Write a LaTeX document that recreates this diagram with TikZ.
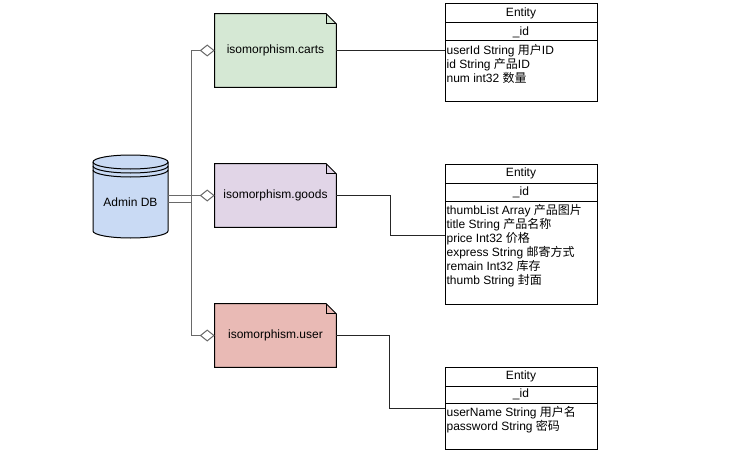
\documentclass[tikz,border=0pt]{standalone}
\usepackage{fontspec}
\setmainfont{Liberation Sans}
\newfontfamily\cjk{Noto Sans CJK SC}
\usetikzlibrary{positioning,arrows.meta,backgrounds}

\newcommand{\zh}[1]{{\cjk #1}}

\definecolor{cartsgreen}{HTML}{D5E8D4}
\definecolor{goodspurple}{HTML}{E1D5E7}
\definecolor{userred}{RGB}{233,186,181}
\definecolor{dbblue}{RGB}{201,218,244}
\definecolor{linegray}{RGB}{105,105,105}

\tikzset{
  every node/.style={font=\fontsize{9}{10.5}\selectfont},
  note/.style={minimum width=90.75pt, inner sep=0pt},
  notebox/.style={draw=black, line width=0.75pt},
  dbtext/.style={minimum width=56.25pt, inner sep=0pt},
  entityrow/.style={draw, line width=0.75pt, minimum width=114pt, inner sep=0pt, outer sep=0pt},
  fieldtext/.style={anchor=north west, align=left, inner xsep=1pt, inner ysep=2pt},
  aggr/.style={draw=linegray, line width=0.75pt,
    -{Diamond[open,length=11.25pt,width=9pt,line width=0.75pt]}},
  link/.style={draw=black!85, line width=0.75pt}
}

\begin{document}
\begin{tikzpicture}[x=0.75pt,y=-0.75pt]
    \useasboundingbox (0,0) rectangle (750,453);

    % Base de datos
    \filldraw[fill=dbblue, line width=0.75pt]
      (93,162) -- (93,231) arc[start angle=180, end angle=360, x radius=28.125pt, y radius=5.25pt]
      -- (168,162) arc[start angle=0, end angle=180, x radius=28.125pt, y radius=5.25pt] -- cycle;
    \draw[line width=0.75pt] (93,162) arc[start angle=180, end angle=360, x radius=28.125pt, y radius=5.25pt];
    \draw[line width=0.75pt] (93,166) arc[start angle=180, end angle=360, x radius=28.125pt, y radius=5.25pt];
    \draw[line width=0.75pt] (93,170) arc[start angle=180, end angle=360, x radius=28.125pt, y radius=5.25pt];
    \node[dbtext] (db) at (130.5,202) {Admin DB};

    % Colecciones
    \node[note, minimum height=54.75pt] (carts) at (275.5,50.5) {isomorphism.carts};
    \node[note, minimum height=47.25pt] (goods) at (275.5,195.5) {isomorphism.goods};
    \node[note, minimum height=47.25pt] (user) at (275.5,335.5) {isomorphism.user};

    \begin{scope}[on background layer]
      \foreach \n/\c in {carts/cartsgreen, goods/goodspurple, user/userred} {
        \filldraw[notebox, fill=\c] (\n.north west) -- ([xshift=-7.5pt]\n.north east)
          -- ([yshift=-7.5pt]\n.north east) -- (\n.south east) -- (\n.south west) -- cycle;
        \draw[notebox] ([xshift=-7.5pt]\n.north east) |- ([yshift=-7.5pt]\n.north east);
      }
    \end{scope}

    % Tabla carts
    \node[entityrow, minimum height=14.25pt, anchor=north west] (t1h) at (445,4) {Entity};
    \node[entityrow, minimum height=13.5pt, below=0pt of t1h] (t1i) {\_id};
    \node[entityrow, minimum height=45.75pt, below=0pt of t1i] (t1f) {};
    \node[fieldtext] (t1t) at (t1f.north west) {userId String \zh{用户}ID\\id String \zh{产品}ID\\num int32 \zh{数量}};

    % Tabla goods
    \node[entityrow, minimum height=14.25pt, anchor=north west] (t2h) at (445,164) {Entity};
    \node[entityrow, minimum height=13.5pt, below=0pt of t2h] (t2i) {\_id};
    \node[entityrow, minimum height=77.25pt, below=0pt of t2i] (t2f) {};
    \node[fieldtext] (t2t) at (t2f.north west) {thumbList Array \zh{产品图片}\\title String \zh{产品名称}\\price Int32 \zh{价格}\\express String \zh{邮寄方式}\\remain Int32 \zh{库存}\\thumb String \zh{封面}};

    % Tabla user
    \node[entityrow, minimum height=14.25pt, anchor=north west] (t3h) at (445,367) {Entity};
    \node[entityrow, minimum height=12.75pt, below=0pt of t3h] (t3i) {\_id};
    \node[entityrow, minimum height=34.5pt, below=0pt of t3i] (t3f) {};
    \node[fieldtext] (t3t) at (t3f.north west) {userName String \zh{用户名}\\password String \zh{密码}};

    % Conexiones
    \draw[aggr] (db.east) -- ++(23,0) |- (carts.west);
    \draw[aggr] (db.east |- goods.west) -- (goods.west);
    \draw[aggr] (db.east) -- ++(23,0) |- (user.west);

    \draw[link] (carts.east) -- (carts.east -| t1f.west);
    \draw[link] (goods.east) -- ++(54,0) |- ([yshift=-25.5pt]t2f.north west);
    \draw[link] (user.east) -- ++(53,0) |- ([yshift=-3.75pt]t3f.north west);
\end{tikzpicture}
\end{document}
